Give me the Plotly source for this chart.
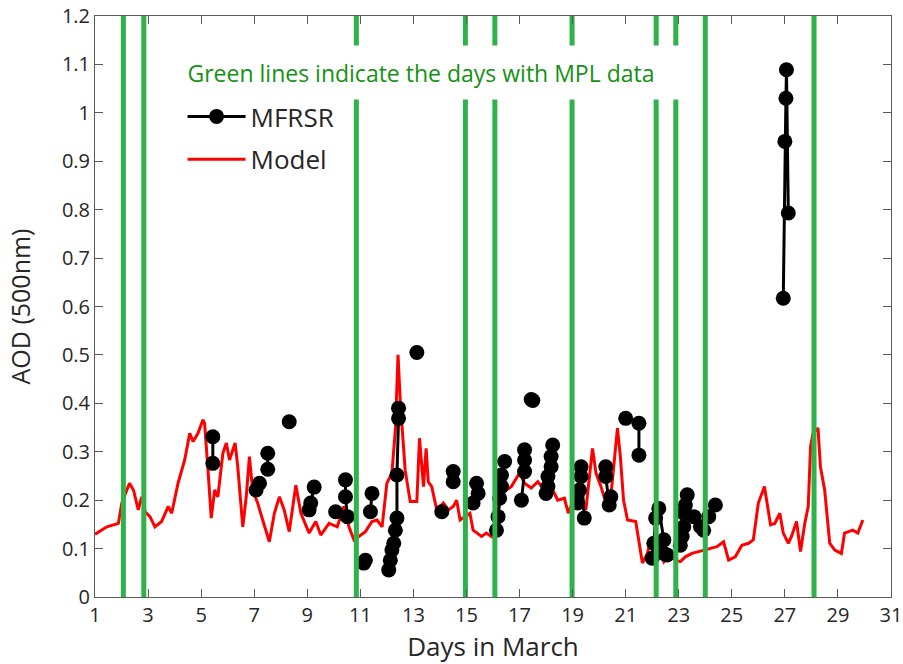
import plotly.graph_objects as go

# ---- data ----
model_day = [1.00, 1.07, 1.45, 1.88, 2.01, 2.30, 2.45, 2.63, 2.76, 2.89, 3.07, 3.26, 3.51, 3.76, 3.89,
             4.13, 4.38, 4.57, 4.70, 4.88, 5.07, 5.13, 5.26, 5.38, 5.51, 5.63, 5.82, 5.95, 6.07, 6.20,
             6.28, 6.38, 6.57, 6.70, 6.82, 6.94, 7.13, 7.32, 7.57, 7.76, 7.95, 8.13, 8.32, 8.57, 8.76,
             9.07, 9.32, 9.51, 9.82, 10.13, 10.38, 10.57, 10.76, 10.94, 11.19, 11.44, 11.63, 11.82,
             12.00, 12.19, 12.32, 12.42, 12.51, 12.69, 12.88, 13.13, 13.23, 13.38, 13.48, 13.56, 13.69,
             13.88, 14.13, 14.32, 14.50, 14.63, 14.76, 14.94, 15.13, 15.25, 15.38, 15.57, 15.75, 15.94,
             16.13, 16.32, 16.50, 16.69, 17.00, 17.19, 17.44, 17.69, 17.94, 18.19, 18.44, 18.69, 18.84,
             19.07, 19.32, 19.50, 19.75, 19.88, 20.07, 20.26, 20.44, 20.69, 20.80, 20.92, 21.07, 21.38,
             21.63, 21.82, 21.91, 22.06, 22.25, 22.44, 22.63, 22.88, 23.06, 23.25, 23.50, 23.75, 24.00,
             24.25, 24.44, 24.69, 24.88, 25.13, 25.38, 25.63, 25.81, 26.00, 26.23, 26.46, 26.62, 26.81,
             26.94, 27.13, 27.25, 27.44, 27.59, 27.75, 27.88, 27.97, 28.06, 28.25, 28.34, 28.50, 28.69,
             28.88, 29.13, 29.25, 29.43, 29.56, 29.75, 29.94]
model_aod = [0.130, 0.132, 0.145, 0.152, 0.194, 0.235, 0.221, 0.180, 0.207, 0.176, 0.166, 0.145, 0.156, 0.187, 0.173,
             0.235, 0.283, 0.338, 0.321, 0.338, 0.366, 0.359, 0.262, 0.163, 0.221, 0.207, 0.297, 0.318, 0.283, 0.307,
             0.318, 0.269, 0.145, 0.207, 0.290, 0.221, 0.194, 0.159, 0.114, 0.173, 0.207, 0.180, 0.135, 0.231, 0.173,
             0.132, 0.156, 0.128, 0.152, 0.145, 0.187, 0.145, 0.118, 0.125, 0.135, 0.156, 0.159, 0.145,
             0.235, 0.256, 0.345, 0.500, 0.400, 0.262, 0.197, 0.197, 0.328, 0.228, 0.307, 0.238, 0.228,
             0.180, 0.194, 0.180, 0.187, 0.200, 0.159, 0.166, 0.173, 0.138, 0.132, 0.125, 0.132, 0.125,
             0.166, 0.235, 0.221, 0.228, 0.256, 0.235, 0.225, 0.238, 0.221, 0.228, 0.200, 0.204, 0.173,
             0.207, 0.200, 0.180, 0.307, 0.256, 0.228, 0.194, 0.207, 0.349, 0.290, 0.200, 0.159, 0.156,
             0.070, 0.090, 0.111, 0.090, 0.097, 0.073, 0.087, 0.076, 0.073, 0.083, 0.090, 0.094, 0.097,
             0.101, 0.104, 0.114, 0.076, 0.083, 0.107, 0.111, 0.118, 0.194, 0.228, 0.149, 0.152, 0.173,
             0.132, 0.111, 0.125, 0.156, 0.094, 0.152, 0.187, 0.311, 0.338, 0.349, 0.269, 0.221, 0.111,
             0.097, 0.090, 0.132, 0.135, 0.138, 0.132, 0.159]

# MFRSR observations; None separates observation runs (no connecting line across gaps)
mfrsr_day = [5.44, 5.44, None,
             7.07, 7.20, None,
             7.51, 7.51, None,
             8.32, None,
             9.07, 9.13, 9.26, None,
             10.07, None,
             10.44, 10.44, 10.51, None,
             11.13, 11.19, None,
             11.38, 11.44, None,
             12.07, 12.13, 12.19, 12.26, 12.32, 12.38, 12.38, 12.44, 12.44, None,
             13.13, None,
             14.07, None,
             14.50, 14.50, None,
             15.25, 15.38, 15.44, None,
             16.13, 16.19, 16.25, 16.32, 16.32, 16.44, None,
             17.07, 17.19, 17.19, 17.19, None,
             17.44, 17.50, None,
             18.00, 18.07, 18.07, 18.19, 18.19, 18.25, None,
             19.19, 19.26, 19.32, 19.32, 19.44, None,
             20.25, 20.25, 20.38, 20.44, None,
             21.00, None,
             21.50, 21.50, None,
             22.00, 22.06, 22.13, 22.25, 22.44, 22.44, 22.56, None,
             23.06, 23.13, 23.19, 23.19, 23.25, 23.32, None,
             23.57, None,
             23.82, 23.94, 24.13, 24.38, None,
             26.94, 27.00, 27.04, 27.06, 27.13]
mfrsr_aod = [0.331, 0.276, None,
             0.221, 0.235, None,
             0.297, 0.264, None,
             0.362, None,
             0.180, 0.194, 0.227, None,
             0.176, None,
             0.242, 0.207, 0.166, None,
             0.070, 0.076, None,
             0.176, 0.214, None,
             0.056, 0.076, 0.097, 0.111, 0.138, 0.163, 0.252, 0.369, 0.390, None,
             0.505, None,
             0.176, None,
             0.259, 0.238, None,
             0.194, 0.235, 0.214, None,
             0.138, 0.166, 0.204, 0.228, 0.252, 0.280, None,
             0.200, 0.259, 0.283, 0.304, None,
             0.408, 0.406, None,
             0.214, 0.228, 0.249, 0.269, 0.290, 0.314, None,
             0.194, 0.221, 0.249, 0.269, 0.163, None,
             0.269, 0.249, 0.190, 0.207, None,
             0.369, None,
             0.359, 0.293, None,
             0.080, 0.111, 0.163, 0.183, 0.118, 0.090, 0.087, None,
             0.107, 0.125, 0.145, 0.173, 0.190, 0.211, None,
             0.166, None,
             0.145, 0.138, 0.166, 0.190, None,
             0.617, 0.941, 1.030, 1.089, 0.793]

mpl_days = [2.07, 2.84, 10.85, 14.96, 16.07, 18.98, 22.15, 22.89, 24.0, 28.1]

x_ticks = list(range(1, 32, 2))
note_text = "Green lines indicate the days with MPL data"

# ---- figure ----
fig = go.Figure()

fig.add_trace(go.Scatter(
    x=model_day, y=model_aod, mode="lines", name="Model",
    line=dict(color="#ff0000", width=3), legendgroup="b", legendrank=2))

fig.add_trace(go.Scatter(
    x=mfrsr_day, y=mfrsr_aod, mode="lines+markers", name="MFRSR",
    line=dict(color="black", width=3), marker=dict(color="black", size=15),
    connectgaps=False, legendgroup="a", legendrank=1))

gx, gy = [], []
for d in mpl_days:
    gx += [d, d, None]
    gy += [0, 1.2, None]
fig.add_trace(go.Scatter(x=gx, y=gy, mode="lines", showlegend=False,
                         line=dict(color="#2db34a", width=5), hoverinfo="skip"))

axis_common = dict(showline=True, linecolor="#5a5a5a", linewidth=1, mirror="ticks",
                   ticks="inside", ticklen=8, tickcolor="#5a5a5a", showgrid=False,
                   zeroline=False, automargin=False,
                   tickfont=dict(family="Open Sans", size=20, color="#262626"))

fig.update_layout(
    width=903, height=664,
    margin=dict(l=95, r=12, t=16, b=67),
    paper_bgcolor="white", plot_bgcolor="white",
    xaxis=dict(range=[1, 31], tickvals=x_ticks, ticklabeloverflow="allow",
               title=dict(text="Days in March", font=dict(family="Open Sans", size=26, color="#262626"), standoff=0),
               **axis_common),
    yaxis=dict(range=[0, 1.2], dtick=0.1, tick0=0,
               title=dict(text="AOD (500nm)", font=dict(family="Open Sans", size=25, color="#262626"), standoff=24),
               **axis_common),
    legend=dict(x=0.11, y=0.8675, xanchor="left", yanchor="top", bgcolor="white",
                font=dict(family="Open Sans", size=26, color="#262626"),
                traceorder="grouped", tracegroupgap=6, itemwidth=58),
    showlegend=True,
)

fig.add_annotation(x=0.409, y=0.9028, xref="paper", yref="paper", xanchor="center", yanchor="middle",
                   text=note_text, showarrow=False, width=506, height=31, align="center",
                   font=dict(family="Open Sans", size=23, color="#139213"),
                   bgcolor="white", borderpad=11)

fig.write_html("out.html")
